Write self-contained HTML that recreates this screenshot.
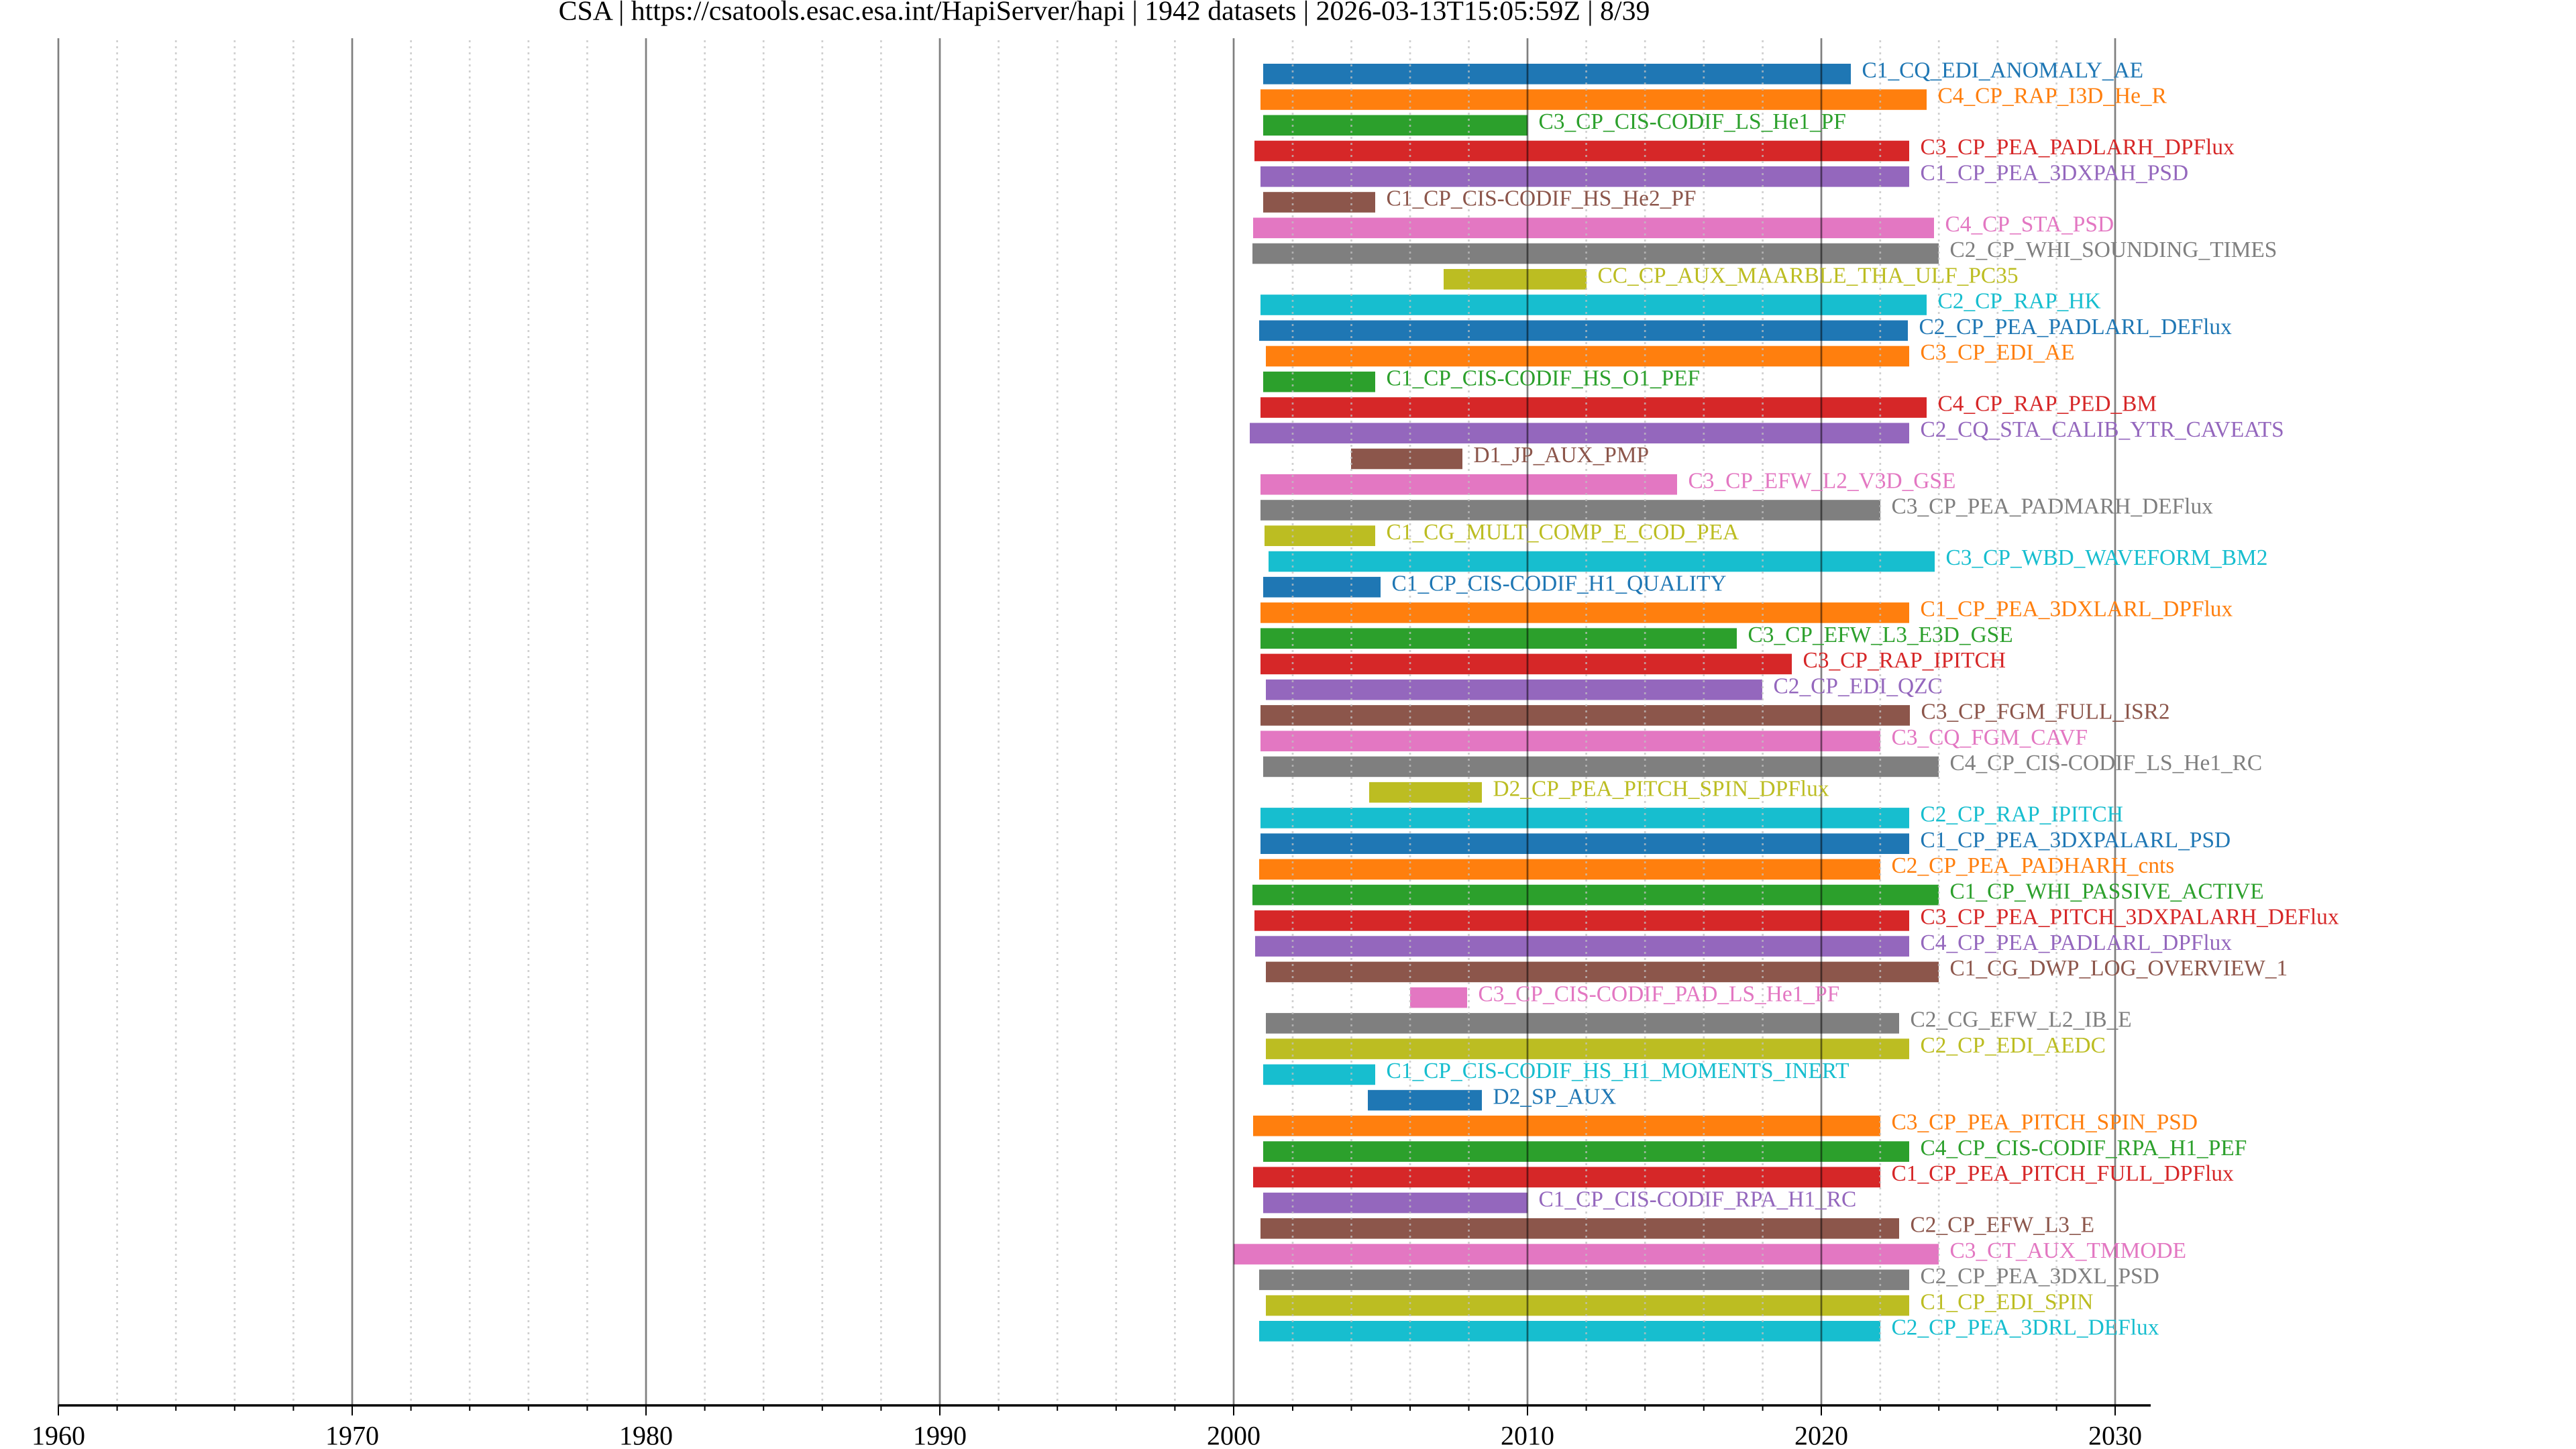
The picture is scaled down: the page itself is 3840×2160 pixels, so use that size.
<!DOCTYPE html>
<html>
<head>
<meta charset="utf-8">
<style>
html,body{margin:0;padding:0;background:#fff;}
svg{display:block;}
text{font-family:"Liberation Serif","Times New Roman",serif;}
.c0{fill:#1f77b4}.c1{fill:#ff7f0e}.c2{fill:#2ca02c}.c3{fill:#d62728}.c4{fill:#9467bd}
.c5{fill:#8c564b}.c6{fill:#e377c2}.c7{fill:#7f7f7f}.c8{fill:#bcbd22}.c9{fill:#17becf}
.lbl text{font-size:33.4px;}
</style>
</head>
<body>
<svg width="3840" height="2160" viewBox="0 0 3840 2160" xmlns="http://www.w3.org/2000/svg">
<rect x="0" y="0" width="3840" height="2160" fill="#fff"/>

<!-- bars -->
<g>
<rect class="c0" x="1883" y="95.0" width="876" height="30.6"/>
<rect class="c1" x="1879" y="133.2" width="993" height="30.6"/>
<rect class="c2" x="1883" y="171.5" width="394" height="30.6"/>
<rect class="c3" x="1870" y="209.7" width="976" height="30.6"/>
<rect class="c4" x="1879" y="248.0" width="967" height="30.6"/>
<rect class="c5" x="1883" y="286.2" width="167" height="30.6"/>
<rect class="c6" x="1868" y="324.5" width="1015" height="30.6"/>
<rect class="c7" x="1867" y="362.7" width="1023" height="30.6"/>
<rect class="c8" x="2152" y="401.0" width="213" height="30.6"/>
<rect class="c9" x="1879" y="439.2" width="993" height="30.6"/>
<rect class="c0" x="1877" y="477.5" width="967" height="30.6"/>
<rect class="c1" x="1887" y="515.7" width="959" height="30.6"/>
<rect class="c2" x="1883" y="553.9" width="167" height="30.6"/>
<rect class="c3" x="1879" y="592.2" width="993" height="30.6"/>
<rect class="c4" x="1863" y="630.4" width="983" height="30.6"/>
<rect class="c5" x="2014" y="668.7" width="166" height="30.6"/>
<rect class="c6" x="1879" y="706.9" width="621" height="30.6"/>
<rect class="c7" x="1879" y="745.2" width="924" height="30.6"/>
<rect class="c8" x="1885" y="783.4" width="165" height="30.6"/>
<rect class="c9" x="1891" y="821.7" width="993" height="30.6"/>
<rect class="c0" x="1883" y="859.9" width="175" height="30.6"/>
<rect class="c1" x="1879" y="898.1" width="967" height="30.6"/>
<rect class="c2" x="1879" y="936.4" width="710" height="30.6"/>
<rect class="c3" x="1879" y="974.6" width="792" height="30.6"/>
<rect class="c4" x="1887" y="1012.9" width="740" height="30.6"/>
<rect class="c5" x="1879" y="1051.1" width="968" height="30.6"/>
<rect class="c6" x="1879" y="1089.4" width="924" height="30.6"/>
<rect class="c7" x="1883" y="1127.6" width="1007" height="30.6"/>
<rect class="c8" x="2041" y="1165.9" width="168" height="30.6"/>
<rect class="c9" x="1879" y="1204.1" width="967" height="30.6"/>
<rect class="c0" x="1879" y="1242.4" width="967" height="30.6"/>
<rect class="c1" x="1877" y="1280.6" width="926" height="30.6"/>
<rect class="c2" x="1867" y="1318.8" width="1023" height="30.6"/>
<rect class="c3" x="1870" y="1357.1" width="976" height="30.6"/>
<rect class="c4" x="1871" y="1395.3" width="975" height="30.6"/>
<rect class="c5" x="1887" y="1433.6" width="1003" height="30.6"/>
<rect class="c6" x="2102" y="1471.8" width="85" height="30.6"/>
<rect class="c7" x="1887" y="1510.1" width="944" height="30.6"/>
<rect class="c8" x="1887" y="1548.3" width="959" height="30.6"/>
<rect class="c9" x="1883" y="1586.6" width="167" height="30.6"/>
<rect class="c0" x="2039" y="1624.8" width="170" height="30.6"/>
<rect class="c1" x="1868" y="1663.0" width="935" height="30.6"/>
<rect class="c2" x="1883" y="1701.3" width="963" height="30.6"/>
<rect class="c3" x="1868" y="1739.5" width="935" height="30.6"/>
<rect class="c4" x="1883" y="1777.8" width="394" height="30.6"/>
<rect class="c5" x="1879" y="1816.0" width="952" height="30.6"/>
<rect class="c6" x="1839" y="1854.3" width="1051" height="30.6"/>
<rect class="c7" x="1877" y="1892.5" width="969" height="30.6"/>
<rect class="c8" x="1887" y="1930.8" width="959" height="30.6"/>
<rect class="c9" x="1877" y="1969.0" width="926" height="30.6"/>
</g>

<!-- minor gridlines -->
<g stroke="#c0c0c0" stroke-opacity="0.75" stroke-width="2.7" stroke-dasharray="3 6">
<line x1="174.6" y1="60" x2="174.6" y2="2095"/>
<line x1="262.2" y1="60" x2="262.2" y2="2095"/>
<line x1="349.8" y1="60" x2="349.8" y2="2095"/>
<line x1="437.4" y1="60" x2="437.4" y2="2095"/>
<line x1="612.6" y1="60" x2="612.6" y2="2095"/>
<line x1="700.2" y1="60" x2="700.2" y2="2095"/>
<line x1="787.8" y1="60" x2="787.8" y2="2095"/>
<line x1="875.4" y1="60" x2="875.4" y2="2095"/>
<line x1="1050.6" y1="60" x2="1050.6" y2="2095"/>
<line x1="1138.2" y1="60" x2="1138.2" y2="2095"/>
<line x1="1225.8" y1="60" x2="1225.8" y2="2095"/>
<line x1="1313.4" y1="60" x2="1313.4" y2="2095"/>
<line x1="1488.6" y1="60" x2="1488.6" y2="2095"/>
<line x1="1576.2" y1="60" x2="1576.2" y2="2095"/>
<line x1="1663.8" y1="60" x2="1663.8" y2="2095"/>
<line x1="1751.4" y1="60" x2="1751.4" y2="2095"/>
<line x1="1927" y1="60" x2="1927" y2="2095"/>
<line x1="2014.5" y1="60" x2="2014.5" y2="2095"/>
<line x1="2102" y1="60" x2="2102" y2="2095"/>
<line x1="2189.5" y1="60" x2="2189.5" y2="2095"/>
<line x1="2364.6" y1="60" x2="2364.6" y2="2095"/>
<line x1="2452.2" y1="60" x2="2452.2" y2="2095"/>
<line x1="2539.8" y1="60" x2="2539.8" y2="2095"/>
<line x1="2627.6" y1="60" x2="2627.6" y2="2095"/>
<line x1="2802.8" y1="60" x2="2802.8" y2="2095"/>
<line x1="2890.2" y1="60" x2="2890.2" y2="2095"/>
<line x1="2977.8" y1="60" x2="2977.8" y2="2095"/>
<line x1="3065.6" y1="60" x2="3065.6" y2="2095"/>
</g>

<!-- major gridlines -->
<g stroke="#000" stroke-opacity="0.5" stroke-width="2.7">
<line x1="87" y1="57" x2="87" y2="2095"/>
<line x1="525" y1="57" x2="525" y2="2095"/>
<line x1="963" y1="57" x2="963" y2="2095"/>
<line x1="1401" y1="57" x2="1401" y2="2095"/>
<line x1="1839" y1="57" x2="1839" y2="2095"/>
<line x1="2277" y1="57" x2="2277" y2="2095"/>
<line x1="2715" y1="57" x2="2715" y2="2095"/>
<line x1="3153" y1="57" x2="3153" y2="2095"/>
</g>

<!-- labels -->
<g class="lbl">
<text class="c0" x="2775.5" y="115.5">C1_CQ_EDI_ANOMALY_AE</text>
<text class="c1" x="2888.5" y="153.7">C4_CP_RAP_I3D_He_R</text>
<text class="c2" x="2293.5" y="192.0">C3_CP_CIS-CODIF_LS_He1_PF</text>
<text class="c3" x="2862.5" y="230.2">C3_CP_PEA_PADLARH_DPFlux</text>
<text class="c4" x="2862.5" y="268.5">C1_CP_PEA_3DXPAH_PSD</text>
<text class="c5" x="2066.5" y="306.7">C1_CP_CIS-CODIF_HS_He2_PF</text>
<text class="c6" x="2899.5" y="345.0">C4_CP_STA_PSD</text>
<text class="c7" x="2906.5" y="383.2">C2_CP_WHI_SOUNDING_TIMES</text>
<text class="c8" x="2381.5" y="421.5">CC_CP_AUX_MAARBLE_THA_ULF_PC35</text>
<text class="c9" x="2888.5" y="459.7">C2_CP_RAP_HK</text>
<text class="c0" x="2860.5" y="498.0">C2_CP_PEA_PADLARL_DEFlux</text>
<text class="c1" x="2862.5" y="536.2">C3_CP_EDI_AE</text>
<text class="c2" x="2066.5" y="574.4">C1_CP_CIS-CODIF_HS_O1_PEF</text>
<text class="c3" x="2888.5" y="612.7">C4_CP_RAP_PED_BM</text>
<text class="c4" x="2862.5" y="650.9">C2_CQ_STA_CALIB_YTR_CAVEATS</text>
<text class="c5" x="2196.5" y="689.2">D1_JP_AUX_PMP</text>
<text class="c6" x="2516.5" y="727.4">C3_CP_EFW_L2_V3D_GSE</text>
<text class="c7" x="2819.5" y="765.7">C3_CP_PEA_PADMARH_DEFlux</text>
<text class="c8" x="2066.5" y="803.9">C1_CG_MULT_COMP_E_COD_PEA</text>
<text class="c9" x="2900.5" y="842.2">C3_CP_WBD_WAVEFORM_BM2</text>
<text class="c0" x="2074.5" y="880.4">C1_CP_CIS-CODIF_H1_QUALITY</text>
<text class="c1" x="2862.5" y="918.6">C1_CP_PEA_3DXLARL_DPFlux</text>
<text class="c2" x="2605.5" y="956.9">C3_CP_EFW_L3_E3D_GSE</text>
<text class="c3" x="2687.5" y="995.1">C3_CP_RAP_IPITCH</text>
<text class="c4" x="2643.5" y="1033.4">C2_CP_EDI_QZC</text>
<text class="c5" x="2863.5" y="1071.6">C3_CP_FGM_FULL_ISR2</text>
<text class="c6" x="2819.5" y="1109.9">C3_CQ_FGM_CAVF</text>
<text class="c7" x="2906.5" y="1148.1">C4_CP_CIS-CODIF_LS_He1_RC</text>
<text class="c8" x="2225.5" y="1186.4">D2_CP_PEA_PITCH_SPIN_DPFlux</text>
<text class="c9" x="2862.5" y="1224.6">C2_CP_RAP_IPITCH</text>
<text class="c0" x="2862.5" y="1262.9">C1_CP_PEA_3DXPALARL_PSD</text>
<text class="c1" x="2819.5" y="1301.1">C2_CP_PEA_PADHARH_cnts</text>
<text class="c2" x="2906.5" y="1339.3">C1_CP_WHI_PASSIVE_ACTIVE</text>
<text class="c3" x="2862.5" y="1377.6">C3_CP_PEA_PITCH_3DXPALARH_DEFlux</text>
<text class="c4" x="2862.5" y="1415.8">C4_CP_PEA_PADLARL_DPFlux</text>
<text class="c5" x="2906.5" y="1454.1">C1_CG_DWP_LOG_OVERVIEW_1</text>
<text class="c6" x="2203.5" y="1492.3">C3_CP_CIS-CODIF_PAD_LS_He1_PF</text>
<text class="c7" x="2847.5" y="1530.6">C2_CG_EFW_L2_IB_E</text>
<text class="c8" x="2862.5" y="1568.8">C2_CP_EDI_AEDC</text>
<text class="c9" x="2066.5" y="1607.1">C1_CP_CIS-CODIF_HS_H1_MOMENTS_INERT</text>
<text class="c0" x="2225.5" y="1645.3">D2_SP_AUX</text>
<text class="c1" x="2819.5" y="1683.5">C3_CP_PEA_PITCH_SPIN_PSD</text>
<text class="c2" x="2862.5" y="1721.8">C4_CP_CIS-CODIF_RPA_H1_PEF</text>
<text class="c3" x="2819.5" y="1760.0">C1_CP_PEA_PITCH_FULL_DPFlux</text>
<text class="c4" x="2293.5" y="1798.3">C1_CP_CIS-CODIF_RPA_H1_RC</text>
<text class="c5" x="2847.5" y="1836.5">C2_CP_EFW_L3_E</text>
<text class="c6" x="2906.5" y="1874.8">C3_CT_AUX_TMMODE</text>
<text class="c7" x="2862.5" y="1913.0">C2_CP_PEA_3DXL_PSD</text>
<text class="c8" x="2862.5" y="1951.3">C1_CP_EDI_SPIN</text>
<text class="c9" x="2819.5" y="1989.5">C2_CP_PEA_3DRL_DEFlux</text>
</g>

<!-- axis -->
<line x1="87" y1="2095" x2="3206" y2="2095" stroke="#000" stroke-width="3.5"/>
<g stroke="#000" stroke-width="2">
<line x1="87" y1="2095" x2="87" y2="2110"/>
<line x1="525" y1="2095" x2="525" y2="2110"/>
<line x1="963" y1="2095" x2="963" y2="2110"/>
<line x1="1401" y1="2095" x2="1401" y2="2110"/>
<line x1="1839" y1="2095" x2="1839" y2="2110"/>
<line x1="2277" y1="2095" x2="2277" y2="2110"/>
<line x1="2715" y1="2095" x2="2715" y2="2110"/>
<line x1="3153" y1="2095" x2="3153" y2="2110"/>
</g>
<g stroke="#000" stroke-width="2">
<line x1="174.6" y1="2095" x2="174.6" y2="2103"/>
<line x1="262.2" y1="2095" x2="262.2" y2="2103"/>
<line x1="349.8" y1="2095" x2="349.8" y2="2103"/>
<line x1="437.4" y1="2095" x2="437.4" y2="2103"/>
<line x1="612.6" y1="2095" x2="612.6" y2="2103"/>
<line x1="700.2" y1="2095" x2="700.2" y2="2103"/>
<line x1="787.8" y1="2095" x2="787.8" y2="2103"/>
<line x1="875.4" y1="2095" x2="875.4" y2="2103"/>
<line x1="1050.6" y1="2095" x2="1050.6" y2="2103"/>
<line x1="1138.2" y1="2095" x2="1138.2" y2="2103"/>
<line x1="1225.8" y1="2095" x2="1225.8" y2="2103"/>
<line x1="1313.4" y1="2095" x2="1313.4" y2="2103"/>
<line x1="1488.6" y1="2095" x2="1488.6" y2="2103"/>
<line x1="1576.2" y1="2095" x2="1576.2" y2="2103"/>
<line x1="1663.8" y1="2095" x2="1663.8" y2="2103"/>
<line x1="1751.4" y1="2095" x2="1751.4" y2="2103"/>
<line x1="1927" y1="2095" x2="1927" y2="2103"/>
<line x1="2014.5" y1="2095" x2="2014.5" y2="2103"/>
<line x1="2102" y1="2095" x2="2102" y2="2103"/>
<line x1="2189.5" y1="2095" x2="2189.5" y2="2103"/>
<line x1="2364.6" y1="2095" x2="2364.6" y2="2103"/>
<line x1="2452.2" y1="2095" x2="2452.2" y2="2103"/>
<line x1="2539.8" y1="2095" x2="2539.8" y2="2103"/>
<line x1="2627.6" y1="2095" x2="2627.6" y2="2103"/>
<line x1="2802.8" y1="2095" x2="2802.8" y2="2103"/>
<line x1="2890.2" y1="2095" x2="2890.2" y2="2103"/>
<line x1="2977.8" y1="2095" x2="2977.8" y2="2103"/>
<line x1="3065.6" y1="2095" x2="3065.6" y2="2103"/>
</g>
<g font-size="40" text-anchor="middle" fill="#000">
<text x="87" y="2153.5">1960</text>
<text x="525" y="2153.5">1970</text>
<text x="963" y="2153.5">1980</text>
<text x="1401" y="2153.5">1990</text>
<text x="1839" y="2153.5">2000</text>
<text x="2277" y="2153.5">2010</text>
<text x="2715" y="2153.5">2020</text>
<text x="3153" y="2153.5">2030</text>
</g>

<!-- title -->
<text x="1646" y="29.3" font-size="41.75" text-anchor="middle" fill="#000">CSA | https://csatools.esac.esa.int/HapiServer/hapi | 1942 datasets | 2026-03-13T15:05:59Z | 8/39</text>
</svg>
</body>
</html>
